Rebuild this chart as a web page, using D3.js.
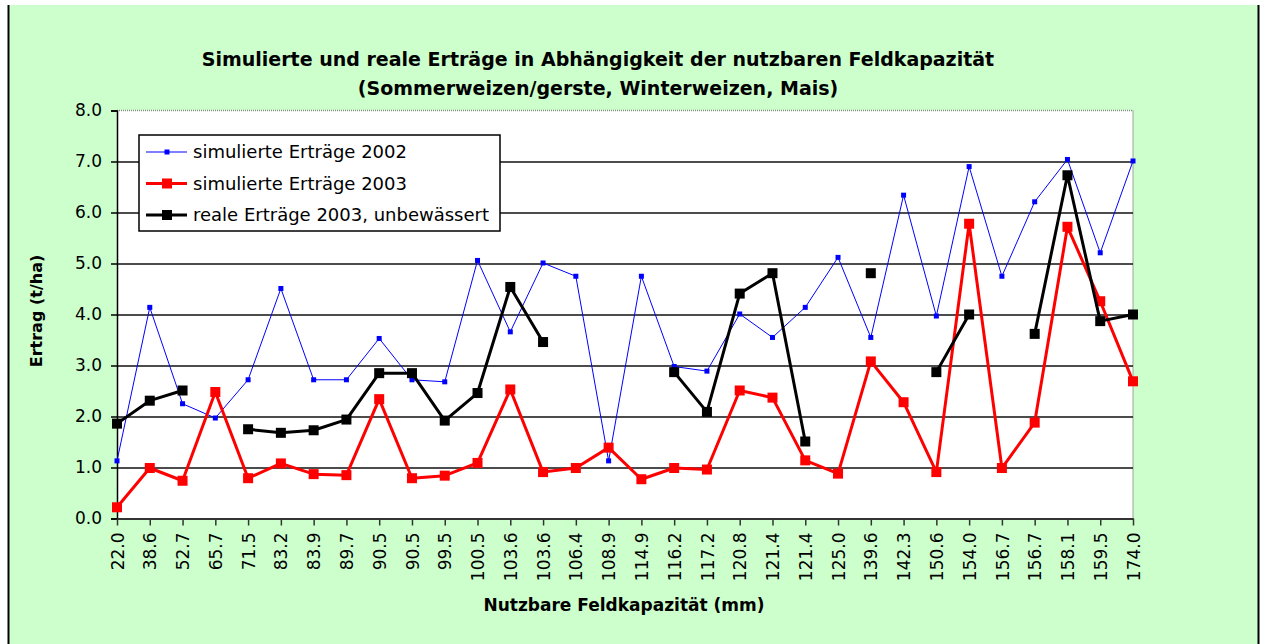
<!DOCTYPE html>
<html>
<head>
<meta charset="utf-8">
<script src="https://cdn.jsdelivr.net/npm/d3@7"></script>
<style>
    body { margin: 0; background: #fff; }
    svg { display: block; }
    .axis text { font-family: "DejaVu Sans", sans-serif; font-size: 17px; fill: #000; }
</style>
</head>
<body>
<svg id="chart" width="1266" height="644"></svg>
<script>
const xLabels = ['22.0', '38.6', '52.7', '65.7', '71.5', '83.2', '83.9', '89.7', '90.5', '90.5',
    '99.5', '100.5', '103.6', '103.6', '106.4', '108.9', '114.9', '116.2', '117.2', '120.8',
    '121.4', '121.4', '125.0', '139.6', '142.3', '150.6', '154.0', '156.7', '156.7', '158.1',
    '159.5', '174.0'];
const sim2002 = [1.13, 4.14, 2.25, 1.97, 2.72, 4.51, 2.72, 2.72, 3.53, 2.72, 2.68, 5.06, 3.66,
    5.01, 4.75, 1.13, 4.75, 2.98, 2.89, 4.01, 3.55, 4.14, 5.12, 3.55, 6.34, 3.97, 6.90, 4.75,
    6.21, 7.04, 5.21, 7.01];
const sim2003 = [0.22, 0.99, 0.74, 2.48, 0.79, 1.08, 0.87, 0.85, 2.34, 0.79, 0.84, 1.09, 2.53,
    0.91, 0.99, 1.39, 0.77, 0.99, 0.96, 2.51, 2.37, 1.14, 0.88, 3.08, 2.28, 0.91, 5.78, 0.99,
    1.88, 5.72, 4.26, 2.69];
const real2003 = [1.86, 2.31, 2.51, null, 1.75, 1.68, 1.73, 1.94, 2.85, 2.85, 1.92, 2.46, 4.54,
    3.46, null, null, null, 2.87, 2.09, 4.41, 4.81, 1.51, null, 4.81, null, 2.87, 4.00, null,
    3.62, 6.73, 3.87, 4.00];
const yTicks = [0, 1, 2, 3, 4, 5, 6, 7, 8];
const seriesNames = ['simulierte Erträge 2002', 'simulierte Erträge 2003', 'reale Erträge 2003, unbewässert'];

const svg = d3.select('#chart');
const plot = { left: 117, right: 1133, top: 110.5, bottom: 518.5 };

// chart background
svg.append('rect')
    .attr('x', 8).attr('y', 5)
    .attr('width', 1250).attr('height', 639)
    .attr('fill', '#ccffcc');
svg.append('line')
    .attr('x1', 8.5).attr('x2', 8.5).attr('y1', 5).attr('y2', 644)
    .attr('stroke', '#000').attr('stroke-width', 2);
svg.append('line')
    .attr('x1', 1258.5).attr('x2', 1258.5).attr('y1', 5).attr('y2', 644)
    .attr('stroke', '#000').attr('stroke-width', 2);

svg.append('rect')
    .attr('x', plot.left).attr('y', plot.top)
    .attr('width', plot.right - plot.left).attr('height', plot.bottom - plot.top)
    .attr('fill', '#fff');

const x = d3.scalePoint()
    .domain(d3.range(xLabels.length))
    .range([plot.left, plot.right])
    .padding(0);
const y = d3.scaleLinear()
    .domain([0, 8])
    .range([plot.bottom, plot.top]);

// plot frame top / right (dotted grey)
svg.append('path')
    .attr('d', `M${plot.left},${plot.top}H${plot.right}V${plot.bottom}`)
    .attr('fill', 'none')
    .attr('stroke', '#888')
    .attr('stroke-width', 1.5)
    .attr('stroke-dasharray', '1,1');

const grid = svg.append('g')
    .attr('transform', `translate(${plot.left},0)`)
    .call(d3.axisLeft(y).tickValues(yTicks.slice(1, -1)).tickSize(-(plot.right - plot.left)).tickFormat(''));
grid.select('.domain').remove();
grid.selectAll('line').attr('stroke', '#111').attr('stroke-width', 1.5);

const yAxis = svg.append('g')
    .attr('class', 'axis')
    .attr('transform', `translate(${plot.left},0)`)
    .call(d3.axisLeft(y).tickValues(yTicks).tickSize(6).tickPadding(9).tickFormat(d3.format('.1f')));
yAxis.select('.domain').attr('stroke', '#000').attr('stroke-width', 1.5);
yAxis.selectAll('line').attr('stroke', '#000').attr('stroke-width', 1.5);

const xAxis = svg.append('g')
    .attr('class', 'axis')
    .attr('transform', `translate(0,${plot.bottom})`)
    .call(d3.axisBottom(x).tickSize(7).tickSizeOuter(0).tickFormat(i => xLabels[i]));
xAxis.select('.domain').attr('stroke', '#333').attr('stroke-width', 2);
xAxis.selectAll('line').attr('stroke', '#333').attr('stroke-width', 1.5);
xAxis.selectAll('text')
    .attr('transform', 'rotate(-90)')
    .attr('x', -14)
    .attr('y', 0)
    .attr('dy', '0.36em')
    .attr('text-anchor', 'end');

const series = [
    { name: seriesNames[0], values: sim2002, color: '#0000ff', width: 1, size: 5 },
    { name: seriesNames[1], values: sim2003, color: '#ff0000', width: 3, size: 10 },
    { name: seriesNames[2], values: real2003, color: '#000000', width: 3, size: 10 },
];

const line = d3.line()
    .defined(d => d != null)
    .x((d, i) => x(i))
    .y(d => y(d));

series.forEach((s) => {
    const g = svg.append('g');
    g.append('path')
        .datum(s.values)
        .attr('fill', 'none')
        .attr('stroke', s.color)
        .attr('stroke-width', s.width)
        .attr('stroke-linejoin', 'round')
        .attr('d', line);
    g.selectAll('rect')
        .data(s.values.map((v, i) => ({ v, i })).filter(d => d.v != null))
        .join('rect')
        .attr('x', d => x(d.i) - s.size / 2)
        .attr('y', d => y(d.v) - s.size / 2)
        .attr('width', s.size)
        .attr('height', s.size)
        .attr('fill', s.color);
});

// legend
const legend = svg.append('g').attr('transform', 'translate(139,135)');
legend.append('rect')
    .attr('width', 361).attr('height', 96)
    .attr('fill', '#fff')
    .attr('stroke', '#000')
    .attr('stroke-width', 1.5);
series.forEach((s, i) => {
    const row = legend.append('g').attr('transform', `translate(0,${17 + i * 31.5})`);
    row.append('line')
        .attr('x1', 7).attr('x2', 48)
        .attr('stroke', s.color)
        .attr('stroke-width', s.width);
    row.append('rect')
        .attr('x', 28 - s.size / 2).attr('y', -s.size / 2)
        .attr('width', s.size).attr('height', s.size)
        .attr('fill', s.color);
    row.append('text')
        .attr('x', 54)
        .attr('dy', '0.36em')
        .attr('font-family', 'DejaVu Sans, sans-serif')
        .attr('font-size', 18)
        .text(s.name);
});

// titles
const title = svg.append('text')
    .attr('text-anchor', 'middle')
    .attr('font-family', 'DejaVu Sans, sans-serif')
    .attr('font-weight', 'bold')
    .attr('font-size', 19);
title.append('tspan').attr('x', 598).attr('y', 66)
    .text('Simulierte und reale Erträge in Abhängigkeit der nutzbaren Feldkapazität');
title.append('tspan').attr('x', 598).attr('y', 95)
    .text('(Sommerweizen/gerste, Winterweizen, Mais)');

svg.append('text')
    .attr('x', 624).attr('y', 611)
    .attr('text-anchor', 'middle')
    .attr('font-family', 'DejaVu Sans, sans-serif')
    .attr('font-weight', 'bold')
    .attr('font-size', 17)
    .text('Nutzbare Feldkapazität (mm)');

svg.append('text')
    .attr('transform', 'translate(42,311) rotate(-90)')
    .attr('text-anchor', 'middle')
    .attr('font-family', 'DejaVu Sans, sans-serif')
    .attr('font-weight', 'bold')
    .attr('font-size', 16)
    .text('Ertrag (t/ha)');
</script>
</body>
</html>
